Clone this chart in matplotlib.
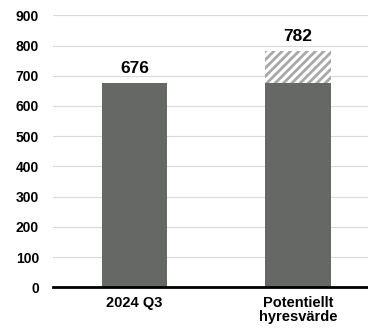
import matplotlib.pyplot as plt
import matplotlib as mpl

plt.rcParams['font.family'] = ['Liberation Sans', 'DejaVu Sans']
plt.rcParams['font.weight'] = 'bold'
mpl.rcParams['hatch.color'] = '#a8a8a8'
mpl.rcParams['hatch.linewidth'] = 2.0

categories = ['2024 Q3', 'Potentiellt\nhyresvärde']
base_values = [676, 676]
extra_values = [0, 106]
totals = [676, 782]

fig = plt.figure(figsize=(3.68, 3.32), dpi=100)
ax = fig.add_axes([0.144, 0.1346, 0.856, 0.8193])

x = [0, 1]
ax.bar(x, base_values, width=0.4, color='#666866', zorder=2)
ax.bar(x, extra_values, bottom=base_values, width=0.4, color='white',
       edgecolor='#a8a8a8', hatch='////', linewidth=0, zorder=2)

# value labels above each bar
for xi, t in zip(x, totals):
    ax.text(xi, t + 34, str(t), ha='center', va='baseline', fontsize=12.5, fontweight='bold')

ax.set_ylim(0, 900)
ax.set_xlim(-0.498, 1.428)
ax.set_yticks(range(0, 1000, 100))
ax.set_xticks(x)
ax.set_xticklabels(categories, fontsize=10.5, fontweight='bold', linespacing=1.0)
ax.tick_params(axis='y', labelsize=10, length=0, pad=10)
ax.tick_params(axis='x', length=0, pad=6)
ax.grid(axis='y', color='#d9d9d9', linewidth=0.8, zorder=0)
ax.set_axisbelow(True)
for s in ['top', 'right', 'left']:
    ax.spines[s].set_visible(False)
ax.spines['bottom'].set_linewidth(2)
ax.spines['bottom'].set_zorder(3)

fig.savefig('out.png', dpi=100)
